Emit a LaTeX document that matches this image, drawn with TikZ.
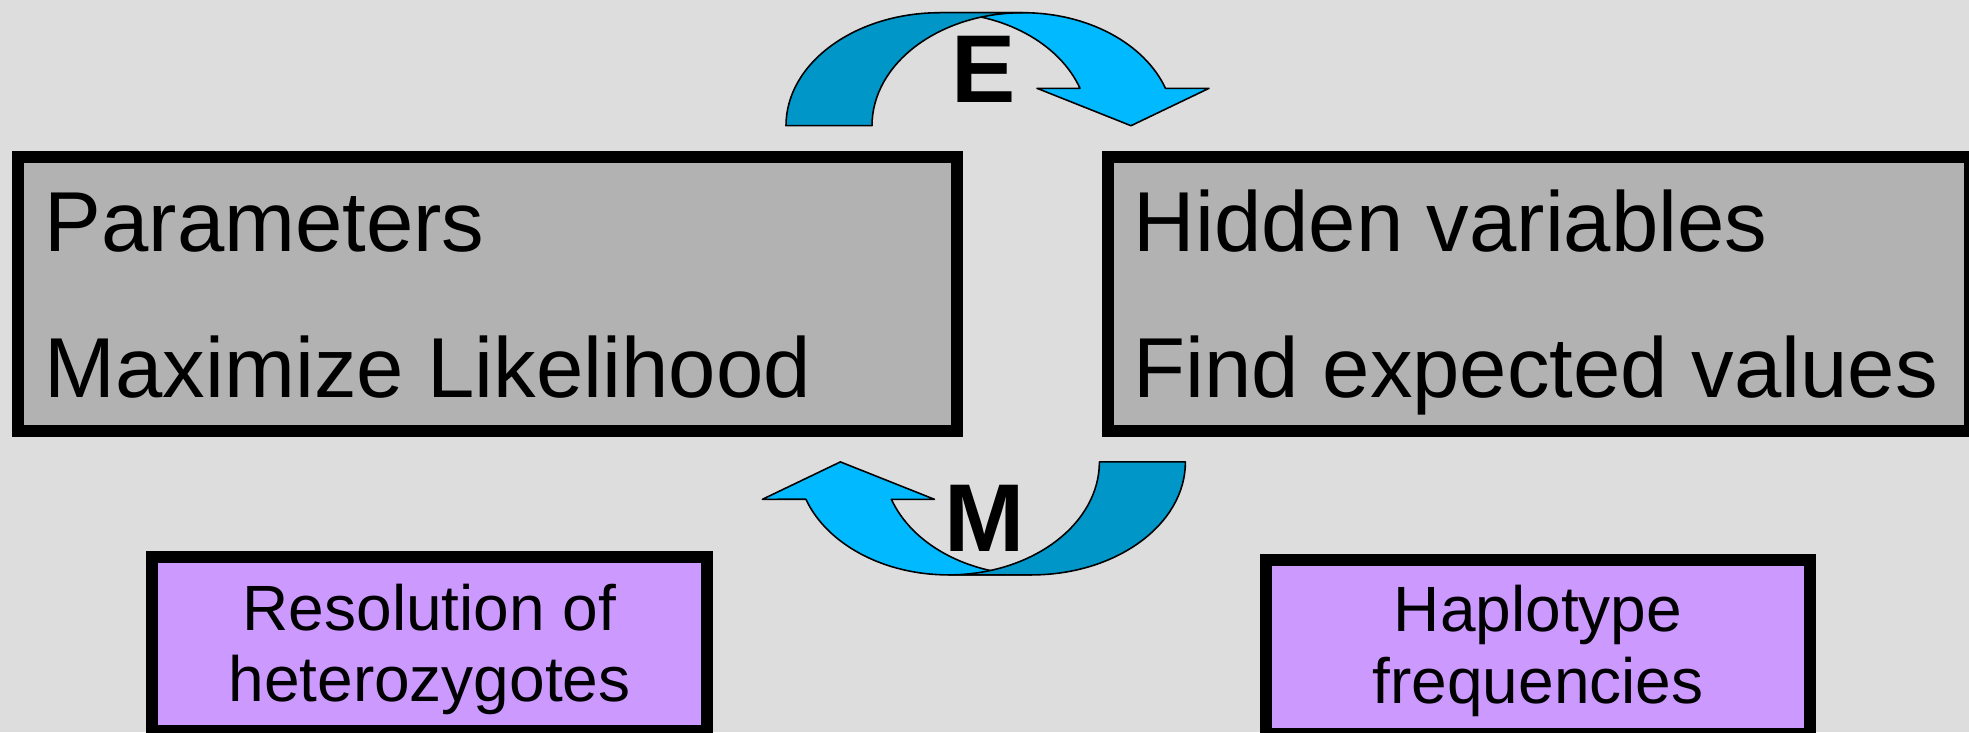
\documentclass[tikz,border=0pt]{standalone}
\usepackage{fontspec}
\setmainfont{Liberation Sans}
\usetikzlibrary{positioning}
\usepackage{xcolor}

\definecolor{slidebg}{RGB}{221,221,221}
\definecolor{boxgray}{RGB}{178,178,178}
\definecolor{boxlilac}{RGB}{204,153,255}
\definecolor{arrowlight}{RGB}{0,185,255}
\definecolor{arrowdark}{RGB}{0,150,200}

% one curved step arrow: light band with the head, shaded tail band on top
\newcommand{\stepcurve}{%
  \filldraw[arrowfront] (940,719.3) -- (1023,719.3)
    arc[start angle=90,end angle=19.3,x radius=151,y radius=113]
    -- (1209,643.7) -- (1131,606.3) -- (1037,643.7) -- (1080,643.7)
    arc[start angle=19.3,end angle=90,x radius=148.3,y radius=113] -- cycle;
  \filldraw[arrowback] (786,606.3)
    arc[start angle=180,end angle=90,x radius=154,y radius=113]
    -- (1023,719.3)
    arc[start angle=90,end angle=180,x radius=151,y radius=113] -- cycle;
}

\begin{document}
\begin{tikzpicture}[x=0.01cm,y=0.01cm,
    bigbox/.style={rectangle,draw,line width=1.2mm,fill=boxgray,minimum height=2.74cm},
    smallbox/.style={rectangle,draw,line width=1.2mm,fill=boxlilac,minimum height=1.74cm},
    bigtext/.style={anchor=base west,inner sep=0pt,font=\fontsize{24.2}{28}\selectfont},
    smalltext/.style={anchor=base,inner sep=0pt,font=\fontsize{18.2}{21}\selectfont},
    steplabel/.style={anchor=base,inner sep=0pt,font=\fontsize{27.4}{32}\selectfont\bfseries},
    arrowfront/.style={fill=arrowlight,draw=black,line width=0.45pt,line join=round},
    arrowback/.style={fill=arrowdark,draw=black,line width=0.45pt,line join=round}]

  \fill[slidebg] (0,0) rectangle (1969,732);
  \useasboundingbox (0,0) rectangle (1969,732);
  \clip (0,0) rectangle (1969,732);

  % the two main boxes
  \node [bigbox,minimum width=9.39cm] (params) at (487.5,438) {};
  \node [bigbox,minimum width=8.62cm] (hidden) at (1539,438) {};
  \node [bigtext] (paramtop) at (44,481) {Parameters};
  \node [bigtext] (paramlow) at (44,335) {Maximize Likelihood};
  \node [bigtext] (hiddentop) at (1133,481) {Hidden variables};
  \node [bigtext] (hiddenlow) at (1133,335) {Find expected values};

  % E step on top, M step is the same arrow turned round
  \stepcurve
  \begin{scope}[rotate around={180:(985.7,438.2)}]
    \stepcurve
  \end{scope}
  \node [steplabel] (estep) at (984,629.7) {E};
  \node [steplabel] (mstep) at (984.5,180.3) {M};

  % what each side stands for
  \node [smallbox,minimum width=5.55cm] (resol) at (429.5,88) {};
  \node [smallbox,minimum width=5.44cm] (haplo) at (1538,85) {};
  \node [smalltext] (resoltop) at (429.5,102) {Resolution of};
  \node [smalltext] (resollow) at (429.5,30.3) {heterozygotes};
  \node [smalltext] (haplotop) at (1538,100.3) {Haplotype};
  \node [smalltext] (haplolow) at (1538,29) {frequencies};
\end{tikzpicture}
\end{document}
